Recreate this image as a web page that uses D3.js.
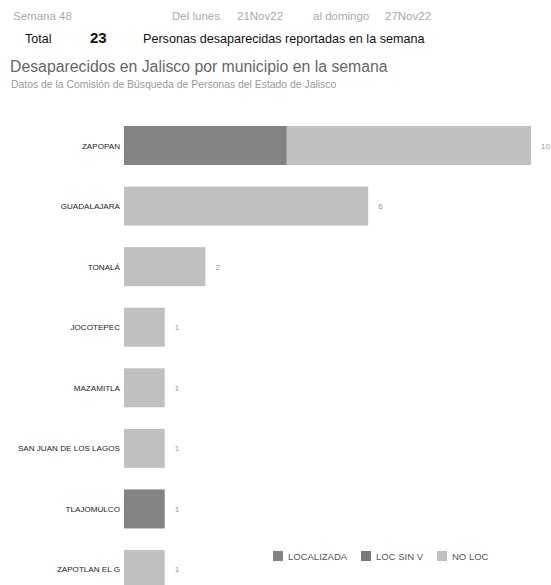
<!DOCTYPE html>
<html>
<head>
<meta charset="utf-8">
<script src="https://cdn.jsdelivr.net/npm/d3@7"></script>
<style>
  body { margin: 0; background: #fff; }
  text { font-family: "Liberation Sans", Arial, sans-serif; }
</style>
</head>
<body>
<div id="chart"></div>
<script>
var width = 551, height = 585;

var municipios = ["ZAPOPAN", "GUADALAJARA", "TONALÁ", "JOCOTEPEC", "MAZAMITLA",
                  "SAN JUAN DE LOS LAGOS", "TLAJOMULCO", "ZAPOTLAN EL G"];
var localizada = [4, 0, 0, 0, 0, 0, 1, 0];
var locSinV    = [0, 0, 0, 0, 0, 0, 0, 0];
var noLoc      = [6, 6, 2, 1, 1, 1, 0, 1];
var series = ["LOCALIZADA", "LOC SIN V", "NO LOC"];
var colores = ["#838383", "#7a7a7a", "#c0c0c0"];

var rows = municipios.map(function (m, i) {
  return { mun: m, "LOCALIZADA": localizada[i], "LOC SIN V": locSinV[i], "NO LOC": noLoc[i] };
});

var svg = d3.select("#chart").append("svg")
    .attr("width", width)
    .attr("height", height);

// encabezado
var head = svg.append("g").style("font-size", "11.5px").attr("fill", "#aaa");
head.append("text").attr("x", 13).attr("y", 20).text("Semana  48");
head.append("text").attr("x", 172).attr("y", 20).text("Del lunes");
head.append("text").attr("x", 237).attr("y", 20).text("21Nov22");
head.append("text").attr("x", 313).attr("y", 20).text("al domingo");
head.append("text").attr("x", 385).attr("y", 20).text("27Nov22");

svg.append("text").attr("x", 25).attr("y", 43).style("font-size", "12.5px")
   .attr("fill", "#111").text("Total");
svg.append("text").attr("x", 90).attr("y", 43).style("font-size", "15px")
   .style("font-weight", "bold").attr("fill", "#111").text("23");
svg.append("text").attr("x", 143).attr("y", 43).style("font-size", "12.6px")
   .attr("fill", "#111").text("Personas desaparecidas reportadas en la semana");

svg.append("text").attr("x", 10).attr("y", 72).style("font-size", "15.8px")
   .attr("fill", "#666").text("Desaparecidos en Jalisco por municipio en la semana");
svg.append("text").attr("x", 11).attr("y", 88).style("font-size", "10.4px")
   .attr("fill", "#999").text("Datos de la Comisión de Búsqueda de Personas del Estado de Jalisco");

// escalas
var x = d3.scaleLinear().domain([0, 10]).range([124, 531]);
var y = d3.scaleBand().domain(municipios)
    .range([126, 589]).paddingInner(0.356).paddingOuter(0);

var stacked = d3.stack().keys(series)(rows);

svg.append("g").selectAll("g")
  .data(stacked)
  .join("g")
    .attr("fill", function (d, i) { return colores[i]; })
  .selectAll("rect")
  .data(function (d) { return d; })
  .join("rect")
    .attr("x", function (d) { return x(d[0]); })
    .attr("y", function (d) { return y(d.data.mun); })
    .attr("width", function (d) { return x(d[1]) - x(d[0]); })
    .attr("height", y.bandwidth());

// etiquetas de municipio
svg.append("g").selectAll("text")
  .data(rows)
  .join("text")
    .attr("x", 120)
    .attr("y", function (d) { return y(d.mun) + y.bandwidth() / 2 + 3; })
    .attr("text-anchor", "end")
    .style("font-size", "8.1px")
    .attr("fill", "#222")
    .text(function (d) { return d.mun; });

// totales
svg.append("g").selectAll("text")
  .data(rows)
  .join("text")
    .attr("x", function (d) { return x(d["LOCALIZADA"] + d["LOC SIN V"] + d["NO LOC"]) + 10; })
    .attr("y", function (d) { return y(d.mun) + y.bandwidth() / 2 + 3; })
    .style("font-size", "8px")
    .attr("fill", "#999")
    .text(function (d) { return d["LOCALIZADA"] + d["LOC SIN V"] + d["NO LOC"]; });

// leyenda
var legX = [273, 361, 437];
var leg = svg.append("g").selectAll("g")
  .data(series)
  .join("g")
    .attr("transform", function (d, i) { return "translate(" + legX[i] + ",551)"; });
leg.append("rect").attr("width", 10).attr("height", 10)
   .attr("fill", function (d, i) { return colores[i]; });
leg.append("text").attr("x", 15).attr("y", 8.5)
   .style("font-size", "9.5px").attr("fill", "#555")
   .text(function (d) { return d; });
</script>
</body>
</html>
